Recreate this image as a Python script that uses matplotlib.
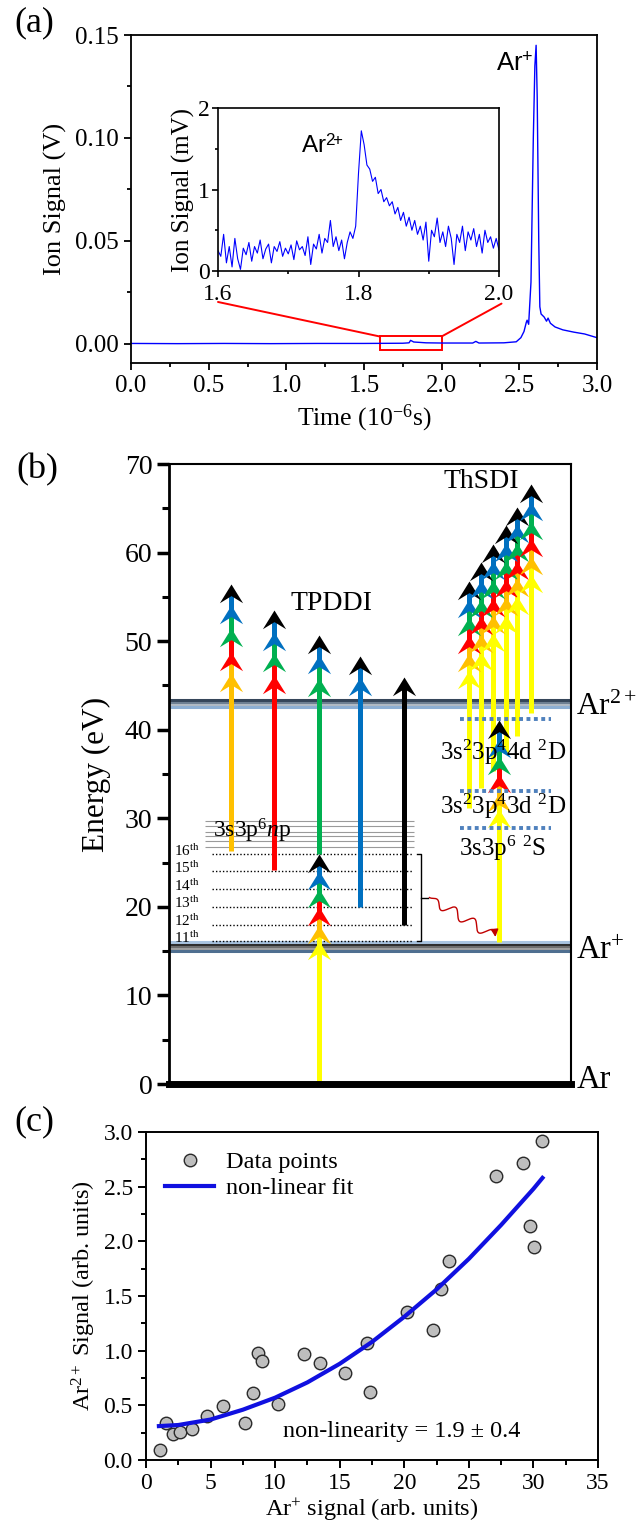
import numpy as np
import matplotlib
matplotlib.use("Agg")
import matplotlib.pyplot as plt
from matplotlib.patches import Rectangle, ConnectionPatch
from matplotlib.ticker import FormatStrFormatter
from matplotlib.lines import Line2D

plt.rcParams['font.family'] = ['Liberation Serif', 'DejaVu Serif']
plt.rcParams['mathtext.fontset'] = 'custom'
plt.rcParams['mathtext.rm'] = 'Liberation Serif'
plt.rcParams['mathtext.it'] = 'Liberation Serif:italic'
plt.rcParams['mathtext.sf'] = 'Liberation Sans'
plt.rcParams['mathtext.bf'] = 'Liberation Serif:bold'

# ==============================
# DATA (a): time-of-flight trace
# ==============================
t_main = [0.00, 0.30, 0.60, 0.90, 1.20, 1.50, 1.75, 1.79, 1.80, 1.82, 1.90, 2.00,
          2.20, 2.22, 2.24, 2.40, 2.48, 2.51, 2.53, 2.545, 2.55, 2.56, 2.575,
          2.59, 2.60, 2.608, 2.615, 2.625, 2.632, 2.64, 2.66, 2.675, 2.685,
          2.70, 2.73, 2.78, 2.85, 2.92, 3.00]
v_main = [0.0002, 0.0001, 0.0002, 0.0001, 0.0002, 0.0002, 0.0003, 0.0005,
          0.0017, 0.0009, 0.0005, 0.0004, 0.0004, 0.0012, 0.0004, 0.0005,
          0.0010, 0.0030, 0.0060, 0.0105, 0.0115, 0.0095, 0.0300, 0.1000,
          0.1350, 0.1450, 0.1200, 0.0500, 0.0180, 0.0145, 0.0130, 0.0110,
          0.0125, 0.0100, 0.0082, 0.0068, 0.0057, 0.0048, 0.0030]

t_inset = np.linspace(1.6, 2.0, 101)
v_inset = [0.25, 0.18, 0.45, 0.10, 0.30, 0.05, 0.40, 0.15, 0.02, 0.28, 0.20,
           0.35, 0.12, 0.30, 0.22, 0.38, 0.15, 0.27, 0.33, 0.10, 0.30, 0.24,
           0.36, 0.18, 0.28, 0.21,
           0.32, 0.14, 0.37, 0.26, 0.30, 0.19, 0.42, 0.08, 0.33, 0.27, 0.45,
           0.22, 0.40, 0.35, 0.62,
           0.30, 0.42, 0.25, 0.38, 0.15, 0.35, 0.48, 0.40, 0.55, 1.20,
           1.72, 1.55, 1.30, 1.25, 1.10, 1.15, 0.95, 1.00, 0.85, 0.90,
           0.80, 0.85, 0.70, 0.78, 0.62, 0.72, 0.55, 0.66, 0.50, 0.62,
           0.45, 0.55, 0.38, 0.60, 0.12, 0.50, 0.42, 0.65, 0.35, 0.48,
           0.30, 0.55, 0.40, 0.08, 0.45, 0.35, 0.55, 0.25, 0.48, 0.38,
           0.52, 0.30, 0.45, 0.22, 0.50, 0.35, 0.42, 0.28, 0.40, 0.26]

zoom_box = [1.6, 2.0, -0.0029, 0.0036]

# ==============================
# DATA (b): energy level scheme
# ==============================
harm_colors = ['#FFFF00', '#FFC000', '#FF0000', '#00B050', '#0070C0', '#000000']
harm_levels = [16.1, 18.0, 20.0, 22.0, 24.1, 26.0]
harm_names = ['11', '12', '13', '14', '15', '16']
harm_label_y = [16.5, 18.4, 20.4, 22.4, 24.4, 26.3]
np_levels = [26.8, 27.4, 28.0, 28.5, 29.1, 29.7]

ar1_band = [16.0, 15.75, 15.5, 15.25, 15.0]
ar1_band_colors = ['#A9C4E0', '#2E2E2E', '#6E6E6E', '#A0A0A0', '#4F6F90']
ar2_band = [43.3, 43.05, 42.8, 42.6]
ar2_band_colors = ['#35465A', '#6D7F92', '#B0BAC4', '#8DAFD3']

# TPDDI: lower stack (yellow ... black) then five upper columns
tp_low_x = 37.4
tp_low_tips = harm_levels
tp_x = [15.3, 26.1, 37.4, 47.5, 58.5]
tp_start = [26.3, 24.2, 26.0, 20.0, 18.0]
tp_first_color = [1, 2, 3, 4, 5]
tp_tips = [[46.4, 48.8, 51.5, 54.1, 56.4],
           [46.2, 48.7, 51.0, 53.5],
           [45.8, 48.4, 50.7],
           [46.0, 48.3],
           [46.0]]

# ThSDI: one column from Ar+ and six columns from the excited Ar+ states
th_low_x = 82.2
th_low_start = 16.0
th_low_tips = [31.1, 32.9, 35.0, 37.0, 39.0, 41.1]
th_x = [74.6, 77.6, 80.6, 83.8, 86.6, 90.0]
th_start = [31.2, 33.4, 35.3, 37.4, 39.3, 41.9]
th_tips = [[46.7, 48.7, 50.7, 52.7, 54.8, 56.8],
           [48.8, 50.8, 52.8, 54.8, 56.9, 58.9],
           [50.9, 52.9, 54.9, 56.9, 59.0, 61.0],
           [53.0, 55.0, 57.0, 59.0, 61.1, 63.1],
           [55.1, 57.1, 59.1, 61.1, 63.2, 65.2],
           [57.6, 59.6, 61.6, 63.6, 65.7, 67.7]]
th_levels = [41.2, 33.1, 28.9]
th_level_names = ['3s$^2$3p$^4$4d $^2$D', '3s$^2$3p$^4$3d $^2$D', '3s3p$^6$ $^2$S']
th_label_y = [37.5, 31.4, 26.6]

# ==============================
# DATA (c): Ar2+ vs Ar+ signal
# ==============================
ar1_sig = [1.05, 1.53, 2.1, 2.65, 3.6, 4.72, 5.93, 7.65, 8.29, 8.7, 9.02, 10.2,
           12.27, 13.48, 15.43, 17.15, 17.31, 20.18, 22.22, 22.82, 23.46,
           27.13, 29.17, 29.74, 30.06, 30.70]
ar2_sig = [0.09, 0.34, 0.24, 0.26, 0.28, 0.40, 0.49, 0.335, 0.61, 0.98, 0.91,
           0.51, 0.97, 0.89, 0.80, 1.07, 0.62, 1.35, 1.19, 1.56, 1.82,
           2.60, 2.72, 2.14, 1.95, 2.92]
fit_x = [1.0, 2.5, 5, 7.5, 10, 12.5, 15, 17.5, 20, 22.5, 25, 27.5, 30, 30.7]
fit_y = [0.31, 0.32, 0.37, 0.46, 0.57, 0.71, 0.88, 1.08, 1.31, 1.56, 1.84,
         2.15, 2.48, 2.58]

# ==============================
# FIGURE
# ==============================
fig = plt.figure(figsize=(6.38, 15.29), dpi=100)

# ---------- (a) ----------
ax_a = fig.add_axes([131/638, 1-363/1529, 466/638, 328/1529])
ax_a.plot(t_main, v_main, color='#0000FF', lw=1.0)
ax_a.set_xlim(0, 3)
ax_a.set_ylim(-0.0093, 0.15)
ax_a.set_xticks([0, 0.5, 1.0, 1.5, 2.0, 2.5, 3.0])
ax_a.set_xticks([0.25, 0.75, 1.25, 1.75, 2.25, 2.75], minor=True)
ax_a.set_yticks([0, 0.05, 0.10, 0.15])
ax_a.set_yticks([0.025, 0.075, 0.125], minor=True)
ax_a.xaxis.set_major_formatter(FormatStrFormatter('%.1f'))
ax_a.yaxis.set_major_formatter(FormatStrFormatter('%.2f'))
ax_a.tick_params(which='both', direction='out', width=1.3, labelsize=18,
                 top=False, right=False)
ax_a.tick_params(which='major', length=5)
ax_a.tick_params(which='minor', length=3)
for s in ax_a.spines.values():
    s.set_linewidth(1.3)
ax_a.set_xlabel('Time (10$^{-6}$s)', fontsize=18.5, labelpad=4)
ax_a.set_ylabel('Ion Signal (V)', fontsize=19, labelpad=6)
ax_a.text(2.35, 0.133, 'Ar$^{\\mathsf{+}}$', family='Liberation Sans', fontsize=18.5)

ax_a.add_patch(Rectangle((zoom_box[0], zoom_box[2]), zoom_box[1]-zoom_box[0],
                         zoom_box[3]-zoom_box[2], fill=False, ec='red', lw=1.4))

ax_in = fig.add_axes([218/638, 1-271/1529, 281/638, 163/1529])
ax_in.plot(t_inset, v_inset, color='#0000FF', lw=0.8)
ax_in.set_xlim(1.6, 2.0)
ax_in.set_ylim(0, 2)
ax_in.set_xticks([1.6, 1.8, 2.0])
ax_in.set_xticks([1.7, 1.9], minor=True)
ax_in.set_yticks([0, 1, 2])
ax_in.set_yticks([0.5, 1.5], minor=True)
ax_in.xaxis.set_major_formatter(FormatStrFormatter('%.1f'))
ax_in.tick_params(which='both', direction='out', width=1.2, labelsize=17,
                  top=False, right=False)
ax_in.tick_params(axis='x', pad=5)
ax_in.tick_params(axis='y', pad=2)
ax_in.tick_params(which='major', length=4)
ax_in.tick_params(which='minor', length=2.5)
for s in ax_in.spines.values():
    s.set_linewidth(1.2)
ax_in.set_ylabel('Ion Signal (mV)', fontsize=18, labelpad=2)
ax_in.text(1.718, 1.45, 'Ar$^{\\mathsf{2}\\!\\mathsf{+}}$', family='Liberation Sans',
           fontsize=17.5)

for xa, ya, xb in [(0.0, -0.19, zoom_box[0]), (1.009, -0.20, zoom_box[1])]:
    con = ConnectionPatch(xyA=(xa, ya), coordsA=ax_in.transAxes,
                          xyB=(xb, zoom_box[3]), coordsB=ax_a.transData,
                          color='red', lw=1.4)
    fig.add_artist(con)

# ---------- (b) ----------
ax_b = fig.add_axes([169/638, 1-1084/1529, 402/638, 620/1529])
ax_b.set_xlim(0, 100)
ax_b.set_ylim(0, 70)
ax_b.set_xticks([])
ax_b.set_yticks(range(0, 71, 10))
ax_b.set_yticks(range(5, 70, 10), minor=True)
ax_b.tick_params(axis='y', which='both', direction='out', labelsize=20, pad=3)
ax_b.tick_params(axis='y', which='major', length=9, width=2.5)
ax_b.tick_params(axis='y', which='minor', length=5, width=2.2)
ax_b.spines['left'].set_linewidth(2)
ax_b.spines['top'].set_linewidth(1.5)
ax_b.spines['right'].set_linewidth(1.5)
ax_b.spines['bottom'].set_linewidth(5)
ax_b.set_ylabel('Energy (eV)', fontsize=22.5, labelpad=10)

for y, c in zip(ar1_band, ar1_band_colors):
    ax_b.axhline(y, color=c, lw=2.2, zorder=1)
for y, c in zip(ar2_band, ar2_band_colors):
    ax_b.axhline(y, color=c, lw=2.2, zorder=1)

ax_b.hlines(np_levels, 9.0, 61.0, colors='#9A9A9A', lw=0.8, zorder=1)
ax_b.hlines(harm_levels, 10.6, 60.5, colors='k', lw=1.0,
            linestyles=(0, (1, 1.5)), zorder=1)
for n, yl in zip(harm_names, harm_label_y):
    ax_b.text(1.2, yl, n + '$^{\\rm th}$', fontsize=11, va='center', ha='left')
ax_b.text(11.0, 28.6, '3s3p$^6$$\\it{n}$p', fontsize=17, va='center', ha='left')

chevron = [(0, 0), (-0.62, -1), (0, -0.62), (0.62, -1), (0, 0)]
HEAD_MS = 27
SHAFT_LW = 3.6


def draw_column(ax, x, y0, tips, first_color, shaft_color=None):
    cols = harm_colors[first_color:first_color + len(tips)]
    sc = shaft_color if shaft_color is not None else cols[0]
    ax.plot([x, x], [y0, tips[0] - 1.2], color=sc, lw=SHAFT_LW,
            solid_capstyle='butt', zorder=2)
    for k, (tip, c) in enumerate(zip(tips, cols)):
        if k > 0:
            ax.plot([x, x], [tips[k-1] - 1.2, tip - 1.2], color=cols[k-1],
                    lw=SHAFT_LW, solid_capstyle='butt', zorder=2)
        ax.plot([x], [tip], marker=chevron, ms=HEAD_MS, color=c, mew=0,
                ls='none', zorder=3)


# TPDDI
draw_column(ax_b, tp_low_x, 0.0, tp_low_tips, 0)
for x, y0, fc, tips in zip(tp_x, tp_start, tp_first_color, tp_tips):
    draw_column(ax_b, x, y0, tips, fc)

# ThSDI
draw_column(ax_b, th_low_x, th_low_start, th_low_tips, 0)
for x, y0, tips in zip(th_x, th_start, th_tips):
    draw_column(ax_b, x, y0, tips, 0)

ax_b.hlines(th_levels, 72.5, 95.0, colors='#4F81BD', lw=2.8,
            linestyles=(0, (1, 0.9)), zorder=4)
for name, yl in zip(th_level_names, th_label_y):
    ax_b.text(83.0, yl, name, fontsize=18, ha='center', va='center', zorder=5)

ax_b.text(40.5, 54.3, 'TPDDI', fontsize=20, ha='center', va='center')
ax_b.text(77.7, 68.0, 'ThSDI', fontsize=20, ha='center', va='center')

# bracket grouping the harmonics
bx = 62.6
ax_b.plot([61.6, bx, bx, 61.6], [harm_levels[0], harm_levels[0],
                                  harm_levels[-1], harm_levels[-1]],
          color='k', lw=1.0, zorder=3)
mid = (harm_levels[0] + harm_levels[-1]) / 2
ax_b.plot([bx, 64.4], [mid, mid], color='k', lw=1.0, zorder=3)

# wavy decay arrow (decorative) from the bracket to the ThSDI column
p0 = ax_b.transData.transform((64.8, mid))
p1 = ax_b.transData.transform((81.2, 16.6))
d = p1 - p0
L = np.hypot(d[0], d[1])
u = d / L
nrm = np.array([-u[1], u[0]])
s = np.linspace(0, 1, 300)
wig = 5.0 * np.sin(2 * np.pi * 3.5 * s) * np.clip(s * 6, 0, 1)
pts = p0[None, :] + s[:, None] * d[None, :] + wig[:, None] * nrm[None, :]
pts = ax_b.transData.inverted().transform(pts)
ax_b.plot(pts[:-8, 0], pts[:-8, 1], color='#C00000', lw=1.0, zorder=3)
ax_b.annotate('', xy=pts[-1], xytext=pts[-10],
              arrowprops=dict(arrowstyle='-|>', color='#C00000', lw=1.0,
                              mutation_scale=11, shrinkA=0, shrinkB=0))

ax_b.text(101.3, 42.5, 'Ar$^{2+}$', fontsize=22.5, va='center', ha='left', clip_on=False)
ax_b.text(101.3, 15.1, 'Ar$^{+}$', fontsize=23.5, va='center', ha='left', clip_on=False)
ax_b.text(101.3, 0.5, 'Ar', fontsize=23.5, va='center', ha='left', clip_on=False)

# ---------- (c) ----------
ax_c = fig.add_axes([146/638, 1-1460/1529, 452/638, 328/1529])
ax_c.plot(ar1_sig, ar2_sig, 'o', ms=9, mfc='#BEBEBE', mec='#2A2A2A', mew=1.0,
          ls='none', zorder=3)
ax_c.plot(fit_x, fit_y, color='#1010E0', lw=3, zorder=4)
ax_c.set_xlim(0, 35)
ax_c.set_ylim(0, 3.0)
ax_c.set_xticks(range(0, 36, 5))
ax_c.set_xticks(np.arange(2.5, 35, 5), minor=True)
ax_c.set_yticks([0, 0.5, 1.0, 1.5, 2.0, 2.5, 3.0])
ax_c.set_yticks([0.25, 0.75, 1.25, 1.75, 2.25, 2.75], minor=True)
ax_c.yaxis.set_major_formatter(FormatStrFormatter('%.1f'))
ax_c.tick_params(which='both', direction='out', width=1.4, labelsize=17,
                 top=False, right=False)
ax_c.tick_params(which='major', length=6)
ax_c.tick_params(which='minor', length=3.5)
for sp in ax_c.spines.values():
    sp.set_linewidth(1.4)
ax_c.set_xlabel('Ar$^{+}$ signal (arb. units)', fontsize=17.5, labelpad=2)
ax_c.set_ylabel('Ar$^{2+}$ Signal (arb. units)', fontsize=17.5, labelpad=4)
handles = [Line2D([], [], marker='o', ms=9, mfc='#BEBEBE', mec='#2A2A2A',
                  ls='none'),
           Line2D([], [], color='#1010E0', lw=3)]
ax_c.legend(handles, ['Data points', 'non-linear fit'], loc='upper left',
            frameon=False, fontsize=17.5, handlelength=2.0, handletextpad=0.5,
            labelspacing=0.15, borderaxespad=0.4)
ax_c.text(10.6, 0.26, 'non-linearity = 1.9 \u00b1 0.4', fontsize=17.5,
          va='center', ha='left')

# panel letters
fig.text(34/638, 1-23/1529, '(a)', fontsize=26, ha='center', va='center')
fig.text(37/638, 1-470/1529, '(b)', fontsize=26, ha='center', va='center')
fig.text(34/638, 1-1122/1529, '(c)', fontsize=26, ha='center', va='center')

fig.savefig('out.png', dpi=100)
